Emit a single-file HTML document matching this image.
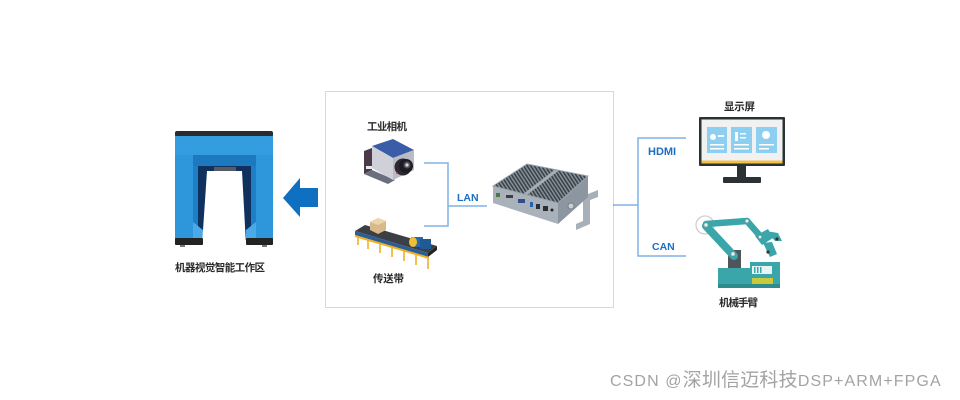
<!DOCTYPE html>
<html><head><meta charset="utf-8">
<style>
html,body{margin:0;padding:0;background:#fff;}
body{width:960px;height:400px;overflow:hidden;position:relative;}
svg{position:absolute;left:0;top:0;}
.cj{font-family:"Liberation Sans","Noto Sans CJK SC",sans-serif;font-size:10.5px;font-weight:bold;fill:#2a2a2a;}
.en{font-family:"Liberation Sans",sans-serif;font-weight:bold;fill:#1c6fc2;}
.wm{position:absolute;left:610px;top:369px;white-space:nowrap;color:#a3a3a3;font-family:"Liberation Sans","Noto Sans CJK SC",sans-serif;font-size:16px;letter-spacing:1.1px;line-height:24px;}
.wm .c{font-size:19px;letter-spacing:0.2px;}
</style></head>
<body>
<svg width="960" height="400" viewBox="0 0 960 400" xmlns="http://www.w3.org/2000/svg">
<defs>
<pattern id="fins" width="3" height="3" patternUnits="userSpaceOnUse" patternTransform="rotate(-33)">
<rect width="3" height="3" fill="#8a949d"/>
<rect width="1.6" height="3" fill="#3a4148"/>
</pattern>
<clipPath id="topc"><polygon points="493,186 527,164 588,176 558,203"/></clipPath>
</defs>

<!-- Gate (machine vision work area) -->
<rect x="175" y="131" width="98" height="6" rx="2" fill="#2b2b2b"/>
<rect x="175" y="136" width="98" height="104" fill="#2e97db"/>
<rect x="175" y="136" width="98" height="19" fill="#349ddf"/>
<rect x="193" y="155" width="63" height="11" fill="#1d79be"/>
<rect x="193" y="166" width="63" height="74" fill="#10305e"/>
<polygon points="193,166 198,166 198,240 193,240" fill="#1f7fc6"/>
<polygon points="251,166 256,166 256,240 251,240" fill="#1f7fc6"/>
<polygon points="193,222 203,230 203,242 193,242" fill="#4aa9e6"/>
<polygon points="256,222 246,230 246,242 256,242" fill="#4aa9e6"/>
<polygon points="207,171 242,171 246,245 202,245" fill="#ffffff"/>
<rect x="214" y="167" width="22" height="4" fill="#555c66"/>
<rect x="175" y="238" width="28" height="7" rx="1" fill="#232323"/>
<rect x="246" y="238" width="27" height="7" rx="1" fill="#232323"/>
<rect x="180" y="245" width="5" height="2" fill="#777"/>
<rect x="262" y="245" width="5" height="2" fill="#777"/>
<text class="cj" x="175" y="271" textLength="90">机器视觉智能工作区</text>

<!-- Big arrow -->
<polygon points="283,198 300,178 300,188 318,188 318,207 300,207 300,217" fill="#0f6fc1"/>

<!-- Dotted box -->
<rect x="325.5" y="91.5" width="288" height="216" fill="none" stroke="#9fb3dc" stroke-width="1" stroke-dasharray="1,1"/>

<!-- Camera -->
<text class="cj" x="367" y="130" textLength="40">工业相机</text>
<polygon points="364,151 372,148 372,170 364,174" fill="#4b3b48"/>
<polygon points="364,174 372,170 395,180 388,184" fill="#6a6f80"/>
<rect x="366" y="166" width="14" height="3" fill="#e8e8f0"/>
<polygon points="372,146 393,139 414,150 393,158" fill="#3b5ca6"/>
<polygon points="372,146 393,158 393,180 372,168" fill="#cfd0d8"/>
<polygon points="393,158 414,150 414,170 393,180" fill="#b9bbc6"/>
<circle cx="403" cy="167" r="8.5" fill="#2a2a30"/>
<circle cx="406" cy="166" r="7" fill="#1c1c22"/>
<circle cx="407" cy="165" r="3.5" fill="#53535c"/>
<circle cx="407" cy="165" r="1.6" fill="#d8d8e0"/>
<circle cx="397" cy="173" r="1" fill="#d33"/>

<!-- Conveyor -->
<g stroke="#f0b126" stroke-width="1.6">
<line x1="358" y1="236" x2="358" y2="245"/>
<line x1="368" y1="239" x2="368" y2="249"/>
<line x1="380" y1="243" x2="380" y2="253"/>
<line x1="392" y1="247" x2="392" y2="257"/>
<line x1="404" y1="251" x2="404" y2="261"/>
<line x1="416" y1="255" x2="416" y2="265"/>
<line x1="428" y1="258" x2="428" y2="269"/>
</g>
<polygon points="355,231 365,225 437,246 428,253" fill="#3c3f45"/>
<polygon points="355,231 428,253 428,257 355,235" fill="#2c5e96"/>
<polygon points="428,253 437,246 437,250 428,257" fill="#222"/>
<line x1="355" y1="236" x2="429" y2="258" stroke="#f0b126" stroke-width="2"/>
<polygon points="370,222 378,218 386,221 386,230 378,234 370,230" fill="#d9b98a"/>
<polygon points="370,222 378,218 386,221 378,225" fill="#ecd4ad"/>
<rect x="411" y="237" width="12" height="10" fill="#2a6aa8"/>
<rect x="420" y="239" width="11" height="10" fill="#1f5a94"/>
<ellipse cx="413" cy="242" rx="4" ry="5" fill="#f0c030"/>
<text class="cj" x="373" y="282" textLength="31">传送带</text>

<!-- LAN lines -->
<g stroke="#7fb3e6" stroke-width="1.5" fill="none">
<polyline points="424,163 448,163 448,226 424,226"/>
<line x1="448" y1="206" x2="487" y2="206"/>
</g>
<text class="en" x="457" y="201" font-size="10.5">LAN</text>

<!-- Mini PC -->
<polygon points="583,196 598,190 598,197 590,200 590,224 576,230 576,224 583,221" fill="#a7b0b8"/>
<polygon points="493,186 558,203 558,224 493,203" fill="#a9b2bb"/>
<polygon points="558,203 588,176 588,197 558,224" fill="#8b96a0"/>
<polygon points="493,186 527,164 588,176 558,203" fill="#7d8892"/>
<g clip-path="url(#topc)">
<rect x="490" y="160" width="100" height="45" fill="url(#fins)"/>
</g>
<line x1="525" y1="194.5" x2="557" y2="170" stroke="#a5aeb6" stroke-width="3"/>
<polygon points="493,186 527,164 588,176 558,203" fill="none" stroke="#9aa4ad" stroke-width="1"/>
<rect x="496" y="193" width="4" height="4" fill="#4a7a40"/>
<rect x="506" y="195" width="7" height="3" fill="#3c3f44"/>
<rect x="518" y="199" width="7" height="4" fill="#2c4f88"/>
<rect x="530" y="202" width="3" height="5" fill="#2a5fb0"/>
<rect x="536" y="204" width="4" height="5" fill="#2b2f35"/>
<rect x="543" y="206" width="5" height="5" fill="#2b2f35"/>
<circle cx="552" cy="210" r="1.5" fill="#222"/>
<circle cx="571" cy="206" r="3" fill="#c9ced3" stroke="#6c757d" stroke-width="0.8"/>

<!-- Right connectors -->
<g stroke="#7fb3e6" stroke-width="1.5" fill="none">
<line x1="613" y1="205" x2="638" y2="205"/>
<polyline points="686,138 638,138 638,256 686,256"/>
</g>
<text class="en" x="648" y="155" font-size="11">HDMI</text>
<text class="en" x="652" y="250" font-size="10.5">CAN</text>

<!-- Monitor -->
<text class="cj" x="724" y="110" textLength="31">显示屏</text>
<rect x="699" y="117" width="86" height="49" rx="1" fill="#2b3236"/>
<rect x="701.5" y="119.5" width="81" height="44" fill="#f1f1f1"/>
<rect x="701.5" y="160.5" width="81" height="3" fill="#f2c14a"/>
<rect x="707" y="127" width="20" height="26" fill="#8dcff0"/>
<rect x="731" y="127" width="21" height="26" fill="#8dcff0"/>
<rect x="756" y="127" width="21" height="26" fill="#8dcff0"/>
<g fill="#ffffff">
<circle cx="713" cy="137" r="3"/>
<rect x="718" y="135" width="6" height="2"/>
<rect x="710" y="144" width="14" height="1.5"/>
<rect x="710" y="148" width="14" height="1.5"/>
<rect x="735" y="132" width="3" height="9"/>
<rect x="740" y="133" width="6" height="1.5"/>
<rect x="740" y="137" width="6" height="1.5"/>
<rect x="734" y="144" width="15" height="1.5"/>
<rect x="734" y="148" width="15" height="1.5"/>
<circle cx="766" cy="135" r="4"/>
<rect x="759" y="144" width="15" height="1.5"/>
<rect x="759" y="148" width="10" height="1.5"/>
</g>
<rect x="737" y="166" width="9" height="11" fill="#2b3236"/>
<rect x="723" y="177" width="38" height="6" rx="1" fill="#2b3236"/>

<!-- Robot arm -->
<circle cx="705" cy="225" r="9" fill="none" stroke="#cfcfcf" stroke-width="1.3"/>
<rect x="718" y="268" width="34" height="20" fill="#3aa6a9"/>
<rect x="750" y="262" width="30" height="26" fill="#3aa6a9"/>
<rect x="718" y="284" width="62" height="4" fill="#2e8c8f"/>
<rect x="752" y="266" width="20" height="8" fill="#e8f4f4"/>
<g fill="#3aa6a9"><rect x="754" y="267" width="1.5" height="6"/><rect x="757" y="267" width="1.5" height="6"/><rect x="760" y="267" width="1.5" height="6"/></g>
<rect x="752" y="278" width="21" height="6" fill="#c9c93a"/>
<rect x="728" y="250" width="13" height="18" fill="#4f5558"/>
<line x1="734" y1="256" x2="706" y2="226" stroke="#3aa6a9" stroke-width="8" stroke-linecap="round"/>
<line x1="706" y1="224" x2="747" y2="221" stroke="#3aa6a9" stroke-width="6.5" stroke-linecap="round"/>
<line x1="747" y1="221" x2="761" y2="237" stroke="#3aa6a9" stroke-width="6.5" stroke-linecap="round"/>
<polygon points="755,236 768,229 773,238 762,245" fill="#3aa6a9"/>
<polygon points="766,231 778,233 782,241 775,241" fill="#3aa6a9"/>
<polygon points="763,243 772,242 777,254 770,257" fill="#3aa6a9"/>
<circle cx="777" cy="239" r="1.6" fill="#333"/>
<circle cx="768" cy="252" r="1.6" fill="#333"/>
<g fill="#e6eeee" stroke="#8a9a9a" stroke-width="0.6">
<circle cx="706" cy="225" r="2"/>
<circle cx="747" cy="221" r="1.8"/>
<circle cx="733" cy="254" r="2"/>
<circle cx="760" cy="237" r="1.6"/>
</g>
<text class="cj" x="719" y="306" textLength="39">机械手臂</text>
</svg>
<div class="wm">CSDN @<span class="c">深圳信迈科技</span>DSP+ARM+FPGA</div>
</body></html>
